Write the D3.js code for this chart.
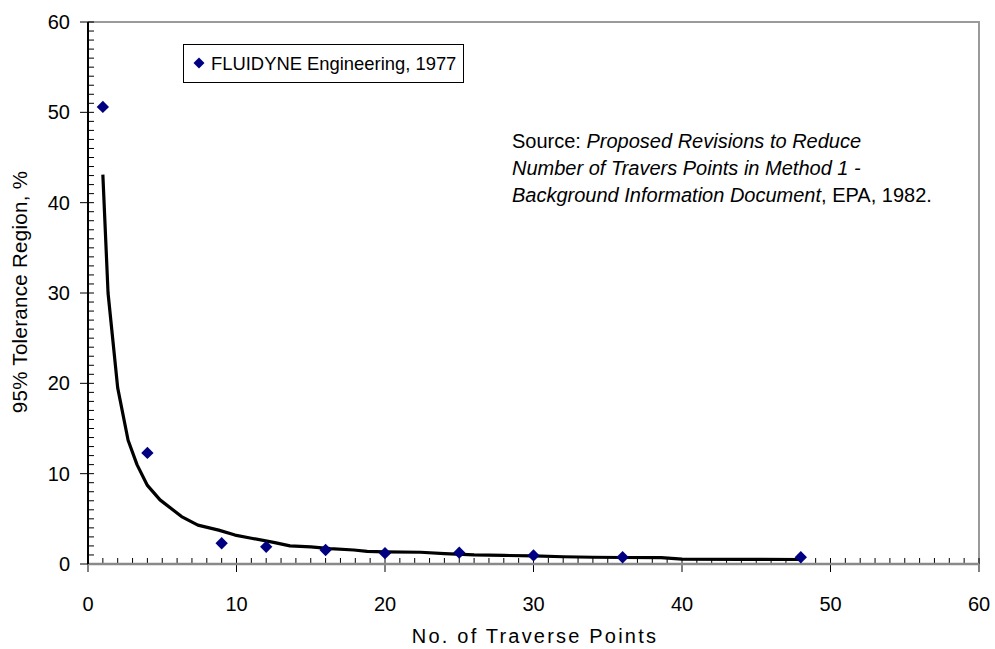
<!DOCTYPE html>
<html>
<head>
<meta charset="utf-8">
<script src="https://cdn.jsdelivr.net/npm/d3@7"></script>
<style>
  html, body { margin: 0; padding: 0; background: #fff; }
  svg { display: block; font-family: "Liberation Sans", Arial, sans-serif; }
</style>
</head>
<body>
<svg id="chart" width="995" height="649"></svg>
<script>
// Measured tolerance points (FLUIDYNE Engineering, 1977)
const pointN = [1, 4, 9, 12, 16, 20, 25, 30, 36, 48];
const pointTol = [50.6, 12.3, 2.3, 1.9, 1.55, 1.2, 1.25, 0.95, 0.75, 0.75];

// Fitted tolerance curve
const curveN = [1, 1.35, 2, 2.7, 3.3, 4, 4.85, 6.3, 7.4, 8.8, 9.9, 11, 12.5, 13.6, 15, 16.3, 17.9, 18.8, 20, 22.4, 24, 26, 28, 30, 32, 34, 36, 38.6, 40, 44, 48];
const curveTol = [43.1, 30.0, 19.5, 13.7, 11.0, 8.7, 7.1, 5.25, 4.3, 3.75, 3.2, 2.85, 2.4, 2.0, 1.9, 1.7, 1.55, 1.4, 1.35, 1.3, 1.15, 1.0, 0.95, 0.9, 0.8, 0.75, 0.72, 0.7, 0.55, 0.52, 0.5];

const xTicks = [0, 10, 20, 30, 40, 50, 60];
const yTicks = [0, 10, 20, 30, 40, 50, 60];

const xTitle = "No. of Traverse Points";
const yTitle = "95% Tolerance Region, %";
const legendLabel = "FLUIDYNE Engineering, 1977";

const svg = d3.select("#chart");
const plotL = 88, plotR = 979, plotT = 22, plotB = 564;

const x = d3.scaleLinear().domain([0, 60]).range([plotL, plotR]);
const y = d3.scaleLinear().domain([0, 60]).range([plotB, plotT]);

// Plot frame (top and right)
svg.append("path")
  .attr("d", `M${plotL},${plotT}H${plotR}V${plotB}`)
  .attr("fill", "none").attr("stroke", "#9a9a9a").attr("stroke-width", 2);

// Minor ticks (inside), every unit
const minor = d3.range(0, 61);
svg.append("g").selectAll("line").data(minor).join("line")
  .attr("x1", d => x(d)).attr("x2", d => x(d))
  .attr("y1", plotB).attr("y2", plotB - 6)
  .attr("stroke", "#000").attr("stroke-width", 1);
svg.append("g").selectAll("line").data(minor).join("line")
  .attr("y1", d => y(d)).attr("y2", d => y(d))
  .attr("x1", plotL).attr("x2", plotL + 6)
  .attr("stroke", "#000").attr("stroke-width", 1);

// Major ticks (outside)
svg.append("g").selectAll("line").data(xTicks).join("line")
  .attr("x1", d => x(d)).attr("x2", d => x(d))
  .attr("y1", plotB).attr("y2", plotB + 8)
  .attr("stroke", "#000").attr("stroke-width", 1);
svg.append("g").selectAll("line").data(yTicks).join("line")
  .attr("y1", d => y(d)).attr("y2", d => y(d))
  .attr("x1", plotL - 8).attr("x2", plotL)
  .attr("stroke", "#000").attr("stroke-width", 1);

// Axis lines
svg.append("line").attr("x1", plotL).attr("x2", plotR).attr("y1", plotB).attr("y2", plotB)
  .attr("stroke", "#8a8a8a").attr("stroke-width", 2.5);
svg.append("line").attr("x1", plotL).attr("x2", plotL).attr("y1", plotT).attr("y2", plotB)
  .attr("stroke", "#000").attr("stroke-width", 2);

// Tick labels
svg.append("g").selectAll("text").data(xTicks).join("text")
  .attr("x", d => x(d)).attr("y", plotB + 47)
  .attr("text-anchor", "middle").attr("font-size", 20).attr("fill", "#000")
  .text(d => d);
svg.append("g").selectAll("text").data(yTicks).join("text")
  .attr("x", plotL - 18).attr("y", d => y(d) + 7)
  .attr("text-anchor", "end").attr("font-size", 20).attr("fill", "#000")
  .text(d => d);

// Axis titles
svg.append("text").attr("x", 535).attr("y", 643)
  .attr("text-anchor", "middle").attr("font-size", 20).attr("letter-spacing", 2.2).text(xTitle);
svg.append("text").attr("transform", `translate(27,292) rotate(-90)`)
  .attr("text-anchor", "middle").attr("font-size", 20.5).attr("letter-spacing", 0.3).text(yTitle);

// Curve
const line = d3.line().x((d, i) => x(curveN[i])).y(d => y(d));
svg.append("path").datum(curveTol)
  .attr("d", line)
  .attr("fill", "none").attr("stroke", "#000").attr("stroke-width", 3.2)
  .attr("stroke-linejoin", "round");

// Points
const diamond = d3.symbol().type(d3.symbolSquare).size(76);
svg.append("g").selectAll("path").data(pointTol).join("path")
  .attr("d", diamond)
  .attr("transform", (d, i) => `translate(${x(pointN[i])},${y(d)}) rotate(45)`)
  .attr("fill", "#000080");

// Legend
const lg = svg.append("g");
lg.append("rect").attr("x", 183.5).attr("y", 44.5).attr("width", 280).attr("height", 38)
  .attr("fill", "#fff").attr("stroke", "#000").attr("stroke-width", 1);
lg.append("path").attr("d", d3.symbol().type(d3.symbolSquare).size(60))
  .attr("transform", "translate(199,63) rotate(45)").attr("fill", "#000080");
lg.append("text").attr("x", 211).attr("y", 70).attr("font-size", 18.4).text(legendLabel);

// Source note
const note = svg.append("text").attr("font-size", 20).attr("fill", "#000");
const l1 = note.append("tspan").attr("x", 512).attr("y", 148);
l1.append("tspan").text("Source: ");
l1.append("tspan").attr("font-style", "italic").text("Proposed Revisions to Reduce");
note.append("tspan").attr("x", 512).attr("y", 175).attr("font-style", "italic")
  .text("Number of Travers Points in Method 1 -");
const l3 = note.append("tspan").attr("x", 512).attr("y", 202);
l3.append("tspan").attr("font-style", "italic").text("Background Information Document");
l3.append("tspan").text(", EPA, 1982.");
</script>
</body>
</html>
